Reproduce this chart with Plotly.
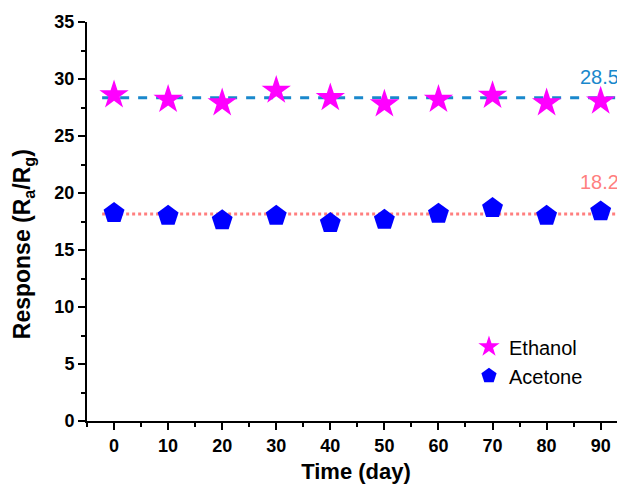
import plotly.graph_objects as go

days = [0, 10, 20, 30, 40, 50, 60, 70, 80, 90]
ethanol = [28.6, 28.2, 27.9, 29.0, 28.35, 27.8, 28.2, 28.55, 27.9, 28.05]
acetone = [18.24, 18.0, 17.6, 18.0, 17.36, 17.65, 18.18, 18.68, 18.0, 18.38]
ethanol_avg_level = 28.35
acetone_avg_level = 18.15
ethanol_avg_label = "28.5"
acetone_avg_label = "18.2"
dash_x = [-2.2, 95]
dot_x = [-2.2, 93]

FONT = "Liberation Sans, Arial, sans-serif"

fig = go.Figure()
fig.add_trace(go.Scatter(x=dash_x, y=[ethanol_avg_level] * 2, mode="lines",
                         line=dict(color="#1a88cc", width=3, dash="dash"),
                         showlegend=False, hoverinfo="skip"))
fig.add_trace(go.Scatter(x=dot_x, y=[acetone_avg_level] * 2, mode="lines",
                         line=dict(color="#ff7f7f", width=3, dash="dot"),
                         showlegend=False, hoverinfo="skip"))
fig.add_trace(go.Scatter(x=days, y=ethanol, mode="markers", name="Ethanol",
                         marker=dict(symbol="star", size=22, color="#ff00ff",
                                     line=dict(width=0))))
fig.add_trace(go.Scatter(x=days, y=acetone, mode="markers", name="Acetone",
                         marker=dict(symbol="pentagon", size=22, color="#0000ff",
                                     line=dict(width=0))))

fig.add_annotation(x=days[-1], y=ethanol_avg_level, text=ethanol_avg_label,
                   showarrow=False, yshift=21, xshift=-1,
                   font=dict(family=FONT, size=20, color="#1a88cc"))
fig.add_annotation(x=days[-1], y=acetone_avg_level, text=acetone_avg_label,
                   showarrow=False, yshift=32, xshift=-1,
                   font=dict(family=FONT, size=20, color="#ff7f7f"))

# y-axis title (placed as rotated text to match the reference position)
fig.add_annotation(xref="paper", yref="paper", x=-0.119, y=0.443,
                   text="<b>Response (R<sub>a</sub>/R<sub>g</sub>)</b>", textangle=-90,
                   showarrow=False, xanchor="center", yanchor="middle",
                   font=dict(family=FONT, size=23, color="black"))

fig.update_layout(
    width=617, height=478,
    margin=dict(l=79, r=0, t=14, b=65),
    plot_bgcolor="white", paper_bgcolor="white",
    font=dict(family=FONT, color="black"),
    legend=dict(x=0.71, y=0.235, xanchor="left", yanchor="top",
                font=dict(family=FONT, size=20), bgcolor="rgba(0,0,0,0)",
                itemsizing="trace", tracegroupgap=0),
    xaxis=dict(range=[-5, 94.5], tick0=0, dtick=10, showgrid=False, zeroline=False,
               showline=True, linecolor="black", linewidth=2,
               ticks="outside", ticklen=7, tickwidth=2, tickcolor="black",
               minor=dict(ticks="outside", ticklen=4, tickwidth=2, dtick=5, tick0=0,
                          tickcolor="black", showgrid=False),
               tickfont=dict(family=FONT, size=18, weight="bold"),
               title=dict(text="Time (day)", font=dict(family=FONT, size=22, weight="bold"),
                          standoff=9)),
    yaxis=dict(range=[0, 35], tick0=0, dtick=5, showgrid=False, zeroline=False,
               showline=True, linecolor="black", linewidth=2,
               ticks="outside", ticklen=7, tickwidth=2, tickcolor="black",
               minor=dict(ticks="outside", ticklen=4, tickwidth=2, dtick=2.5, tick0=0,
                          tickcolor="black", showgrid=False),
               tickfont=dict(family=FONT, size=18, weight="bold")),
)

fig.write_html("out.html")
